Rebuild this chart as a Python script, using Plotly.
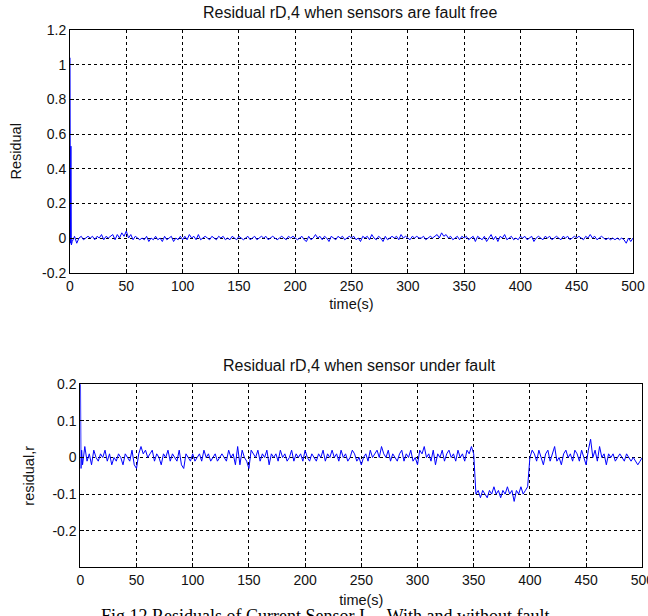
import numpy as np
import plotly.graph_objects as go

# ---------------- data ----------------
# initial transient samples (s, residual)
top_start_t = [0.0, 0.4, 0.8, 1.2]
top_start_v = [1.04, -0.03, 0.53, -0.04]

# fault-free residual, sampled every 2 s from t=2 to t=500
top_vals = [
    -0.02, 0.01, -0.03, 0.00, 0.01, -0.01, 0.00, 0.01, 0.00, 0.01, -0.01, 0.01, 0.00, 0.02, -0.01, 0.01, 0.00, 0.01, 0.02, -0.01, 0.02, 0.00, 0.03, 0.01, 0.04,
    0.00, 0.02, -0.01, 0.01, 0.00, -0.01, 0.00, -0.01, 0.01, -0.02, 0.00, -0.01, 0.01, -0.01, 0.00, -0.02, 0.01, -0.01, 0.00, 0.01, -0.02, 0.00, -0.01, 0.01, -0.01,
    0.01, -0.01, 0.02, 0.00, 0.01, -0.01, 0.02, -0.01, 0.00, 0.01, 0.00, -0.01, 0.01, 0.00, -0.01, 0.01, 0.00, 0.01, -0.01, 0.00, -0.01, 0.01, 0.00, -0.01, 0.01,
    0.00, -0.01, 0.00, 0.01, -0.01, 0.00, 0.01, -0.01, 0.00, 0.01, 0.00, 0.01, -0.01, 0.00, 0.01, 0.00, -0.01, 0.00, 0.01, 0.00, -0.01, 0.01, 0.00, 0.01, 0.00,
    -0.01, 0.00, 0.01, -0.01, -0.02, 0.01, -0.01, 0.00, 0.02, 0.00, 0.01, -0.01, 0.01, 0.00, -0.02, 0.01, 0.00, -0.01, 0.01, 0.00, 0.01, -0.01, 0.00, 0.01, 0.00,
    0.01, -0.01, 0.00, -0.02, 0.01, 0.00, 0.01, -0.01, 0.02, 0.00, -0.01, 0.01, 0.00, -0.02, 0.01, -0.01, 0.00, 0.01, 0.00, 0.01, -0.01, 0.02, 0.00, 0.01, 0.00,
    -0.01, 0.01, 0.00, 0.01, 0.00, 0.00, 0.01, -0.01, 0.00, 0.01, 0.00, 0.01, 0.02, 0.00, 0.03, 0.01, 0.02, 0.00, 0.01, -0.01, 0.00, 0.01, -0.01, 0.01, 0.00,
    0.01, -0.01, 0.00, 0.01, -0.02, 0.01, 0.00, -0.01, 0.01, -0.02, 0.00, 0.02, -0.01, 0.01, -0.02, 0.01, 0.00, 0.02, -0.01, 0.00, 0.01, -0.01, 0.00, -0.01, 0.01,
    0.00, 0.01, -0.01, 0.00, 0.01, -0.02, 0.00, 0.01, 0.00, -0.01, 0.01, 0.00, 0.01, -0.01, 0.00, 0.01, 0.00, -0.01, 0.01, 0.00, 0.01, -0.01, 0.00, 0.01, 0.00,
    0.01, 0.00, -0.01, 0.01, 0.00, 0.02, 0.00, 0.01, -0.01, 0.00, 0.01, 0.00, -0.01, 0.00, -0.01, 0.00, -0.01, 0.00, -0.01, 0.00, -0.01, -0.03, 0.00, -0.02, 0.00,
]

bot_start_t = [0.0, 0.6, 1.2]
bot_start_v = [0.30, -0.03, 0.02]

# residual with sensor fault (350-400 s), sampled every 2 s from t=2 to t=500
bot_vals = [
    -0.02, 0.03, -0.01, 0.01, -0.02, 0.02, 0.00, -0.01, 0.01, 0.00, 0.02, -0.01, 0.01, -0.02, 0.00, -0.01, 0.01, 0.00, -0.02, 0.01, 0.00, -0.01, 0.02, -0.02, -0.03,
    0.01, 0.03, 0.01, 0.02, 0.00, 0.01, 0.02, -0.01, 0.01, 0.00, -0.02, 0.01, 0.00, 0.02, -0.01, 0.01, 0.00, -0.01, 0.02, -0.02, -0.03, 0.01, 0.00, -0.01, 0.01,
    -0.01, 0.00, 0.01, -0.01, 0.02, 0.00, 0.01, -0.01, 0.00, 0.01, -0.01, 0.00, 0.01, 0.00, -0.01, 0.02, 0.00, 0.01, -0.02, 0.03, -0.02, 0.02, 0.00, -0.01, -0.03,
    0.02, 0.01, 0.00, 0.02, -0.01, 0.01, 0.00, 0.02, -0.02, 0.01, 0.00, 0.01, -0.01, 0.02, 0.00, 0.01, -0.01, 0.00, 0.02, -0.01, 0.01, 0.00, 0.01, -0.01, 0.02,
    0.00, -0.01, 0.01, 0.00, -0.01, 0.01, 0.00, 0.02, -0.01, 0.01, 0.00, 0.02, 0.00, 0.01, -0.01, 0.02, 0.00, 0.01, -0.01, 0.00, 0.02, 0.01, -0.01, 0.00, -0.02,
    0.00, 0.01, -0.01, 0.02, 0.00, 0.01, 0.02, 0.00, 0.03, 0.01, 0.00, 0.02, -0.01, 0.01, 0.00, -0.01, 0.01, 0.02, -0.01, 0.01, 0.00, 0.02, -0.01, 0.00, -0.02,
    0.02, 0.01, 0.03, 0.00, 0.01, -0.01, 0.02, -0.02, 0.01, 0.00, 0.02, -0.01, 0.01, 0.02, 0.00, 0.01, -0.01, 0.02, 0.00, 0.01, -0.01, 0.02, 0.01, 0.03, 0.01,
    -0.10, -0.09, -0.11, -0.09, -0.10, -0.11, -0.09, -0.10, -0.08, -0.10, -0.09, -0.11, -0.09, -0.10, -0.08, -0.10, -0.09, -0.12, -0.09, -0.10, -0.08, -0.10, -0.09, -0.08, 0.00,
    0.02, 0.01, -0.01, 0.02, 0.00, -0.02, 0.01, 0.02, -0.01, 0.01, 0.03, -0.01, 0.00, -0.02, 0.01, 0.02, 0.00, 0.01, -0.01, 0.02, 0.01, -0.01, 0.02, 0.00, -0.02,
    0.02, 0.05, 0.00, 0.02, -0.01, 0.03, 0.00, 0.01, -0.02, 0.01, 0.00, 0.01, -0.01, 0.00, 0.01, 0.00, -0.01, 0.01, 0.00, -0.01, 0.00, -0.01, -0.02, -0.01, 0.00,
]

sample_t = list(np.arange(2, 501, 2))

x_ticks = [0, 50, 100, 150, 200, 250, 300, 350, 400, 450, 500]
top_y_ticks = [-0.2, 0, 0.2, 0.4, 0.6, 0.8, 1.0, 1.2]
top_y_labels = ["-0.2", "0", "0.2", "0.4", "0.6", "0.8", "1", "1.2"]
bot_y_ticks = [-0.2, -0.1, 0, 0.1, 0.2]
bot_y_labels = ["-0.2", "-0.1", "0", "0.1", "0.2"]

title_top = "Residual rD,4 when sensors are fault free"
title_bot = "Residual rD,4 when sensor under fault"
caption = "Fig.12 Residuals of Current Sensor I<sub>abc</sub> With and without fault"

# ---------------- figure ----------------
W, H = 648, 616
FONT = "Liberation Sans, Arial, sans-serif"
BLUE = "#0000ff"

fig = go.Figure()
fig.add_trace(go.Scatter(x=top_start_t + sample_t, y=top_start_v + top_vals,
                         mode="lines", line=dict(color=BLUE, width=1),
                         xaxis="x", yaxis="y", showlegend=False))
fig.add_trace(go.Scatter(x=bot_start_t + sample_t, y=bot_start_v + bot_vals,
                         mode="lines", line=dict(color=BLUE, width=1),
                         xaxis="x2", yaxis="y2", showlegend=False))

def fx(px):
    return px / W

def fy(py):
    return (H - py) / H

def px_x(a, b):
    return [fx(a), fx(b)]

def px_y(top, bottom):
    return [fy(bottom), fy(top)]

axis_common = dict(
    showline=True, linecolor="black", linewidth=1, mirror=True,
    ticks="inside", ticklen=4, tickcolor="black",
    showgrid=True, gridcolor="black", gridwidth=1, griddash="3px,3px",
    zeroline=False, automargin=False, ticklabeloverflow="allow",
    tickfont=dict(family=FONT, size=14, color="#111"),
)

fig.update_layout(
    width=W, height=H,
    margin=dict(l=0, r=0, t=0, b=0),
    paper_bgcolor="white", plot_bgcolor="white",
    font=dict(family=FONT, size=13, color="#111"),
    xaxis=dict(domain=px_x(70, 633), range=[0, 500], tickvals=x_ticks,
               title=dict(text="time(s)", standoff=6, font=dict(size=14.5)), anchor="y", **axis_common),
    yaxis=dict(domain=px_y(30, 272.7), range=[-0.2, 1.2], tickvals=top_y_ticks,
               ticktext=top_y_labels, title=dict(text="Residual", standoff=16, font=dict(size=14.5)),
               anchor="x", **axis_common),
    xaxis2=dict(domain=px_x(80.3, 642.3), range=[0, 500], tickvals=x_ticks,
                title=dict(text="time(s)", standoff=7, font=dict(size=14.5)), anchor="y2", **axis_common),
    yaxis2=dict(domain=px_y(384.3, 567.3), range=[-0.3, 0.2], tickvals=bot_y_ticks,
                ticktext=bot_y_labels, title=dict(text="residual,r", standoff=14, font=dict(size=14.5)),
                anchor="x2", **axis_common),
    annotations=[
        dict(text=title_top, x=fx(350), y=fy(13), xref="paper", yref="paper",
             showarrow=False, xanchor="center", yanchor="middle",
             font=dict(family=FONT, size=16, color="#111")),
        dict(text=title_bot, x=fx(359.5), y=fy(366), xref="paper", yref="paper",
             showarrow=False, xanchor="center", yanchor="middle",
             font=dict(family=FONT, size=16, color="#111")),
        dict(text=caption, x=fx(325), y=fy(604), xref="paper", yref="paper",
             showarrow=False, xanchor="center", yanchor="top",
             font=dict(family="Liberation Serif, Times New Roman, serif", size=18, color="black")),
    ],
)

# remove the default page margin so the 648x616 figure fills the window exactly
page_js = ("document.documentElement.style.overflow='hidden';"
           "document.body.style.margin='0px';"
           "document.body.style.overflow='hidden';")

fig.write_html("out.html", post_script=page_js, config={"displayModeBar": False})
